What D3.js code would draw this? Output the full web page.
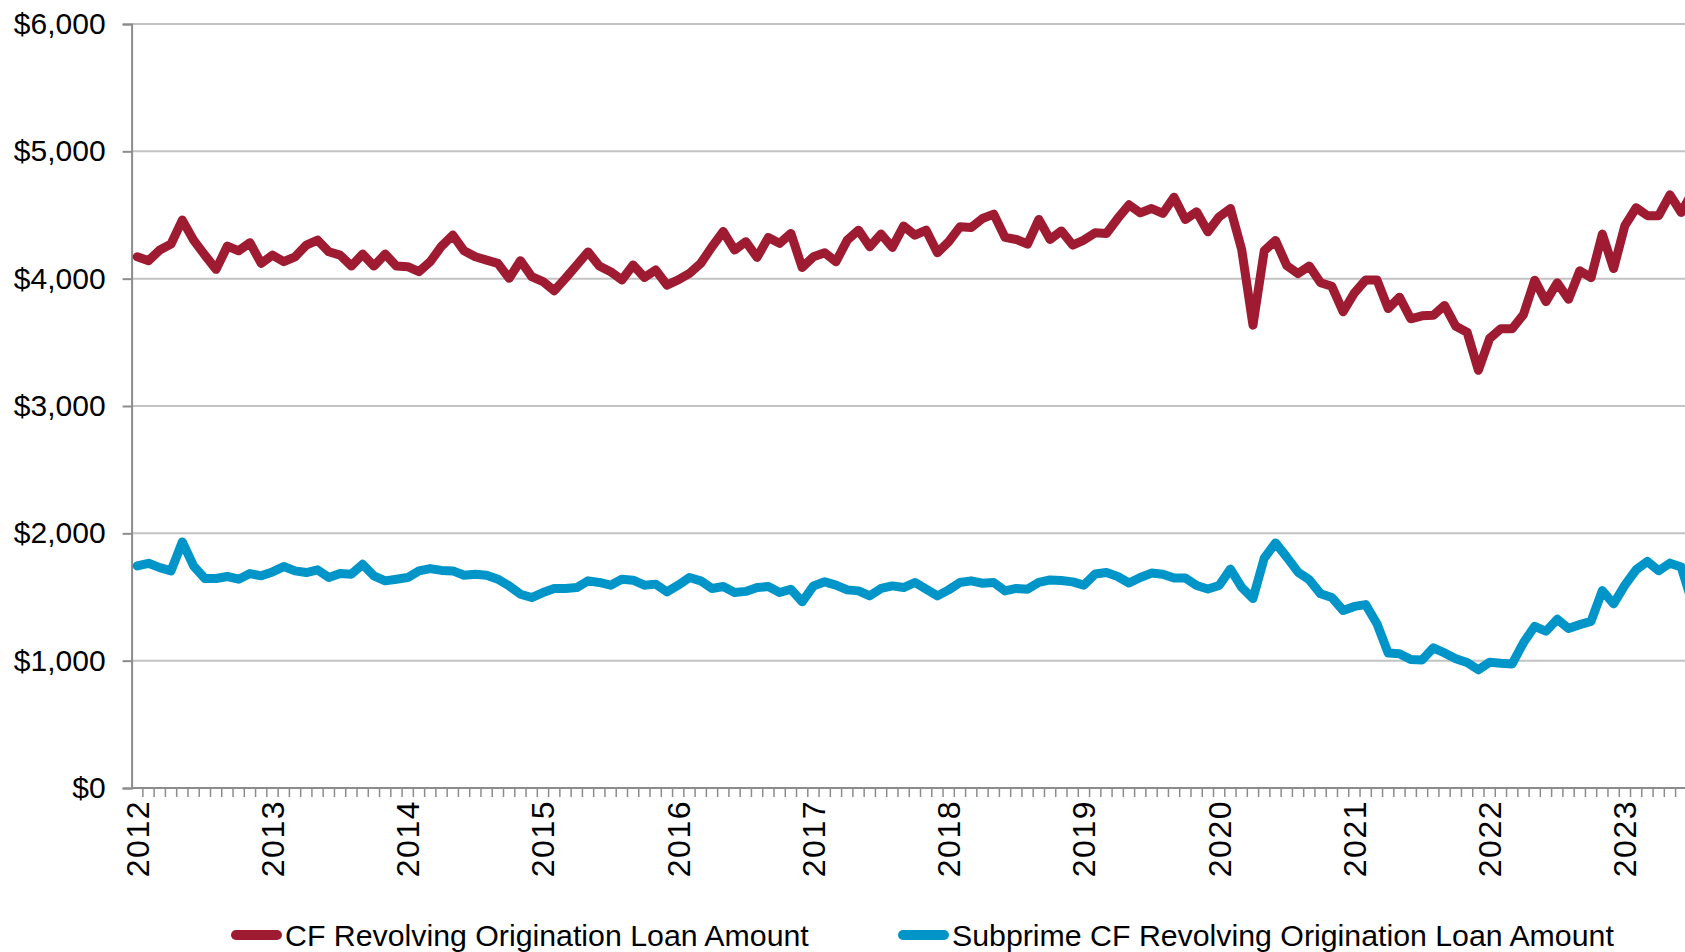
<!DOCTYPE html>
<html>
<head>
<meta charset="utf-8">
<script src="https://cdn.jsdelivr.net/npm/d3@7"></script>
<style>
  body { margin: 0; background: #fff; }
  svg { display: block; font-family: "Liberation Sans", Arial, sans-serif; }
</style>
</head>
<body>
<svg id="chart" width="1685" height="952"></svg>
<script>
// Monthly origination loan amounts, Jan 2012 onward (dollars)
const cfRevolving = [
  4172, 4141, 4225, 4272, 4460, 4303, 4185, 4073, 4256, 4219, 4282, 4120,
  4185, 4133, 4172, 4264, 4303, 4211, 4185, 4099, 4193, 4099, 4193, 4099,
  4094, 4055, 4133, 4255, 4342, 4219, 4172, 4146, 4120, 4003, 4141, 4016,
  3977, 3905, 4003, 4107, 4210, 4099, 4055, 3990, 4107, 4010, 4068, 3950,
  3990, 4042, 4120, 4251, 4370, 4225, 4290, 4167, 4324, 4277, 4355, 4087,
  4172, 4204, 4133, 4303, 4381, 4251, 4350, 4245, 4413, 4342, 4381, 4204,
  4290, 4407, 4402, 4473, 4507, 4324, 4308, 4272, 4465, 4308, 4375, 4264,
  4303, 4360, 4355, 4473, 4580, 4517, 4551, 4512, 4640, 4465, 4525, 4368,
  4486, 4551, 4228, 3635, 4218, 4300, 4103, 4040, 4099, 3968, 3940, 3740,
  3888, 3990, 3990, 3765, 3855, 3685, 3708, 3712, 3790, 3626, 3580, 3280,
  3530, 3607, 3607, 3718, 3988, 3820, 3968, 3838, 4062, 4008, 4350, 4080,
  4416, 4557, 4495, 4495, 4658, 4520, 4680
];
const subprimeRevolving = [
  1744, 1765, 1731, 1705, 1932, 1744, 1645, 1645, 1661, 1640, 1684, 1666,
  1697, 1739, 1705, 1692, 1713, 1653, 1684, 1679, 1757, 1666, 1627, 1640,
  1653, 1705, 1723, 1709, 1705, 1671, 1679, 1671, 1640, 1587, 1522, 1496,
  1535, 1567, 1567, 1574, 1627, 1614, 1593, 1640, 1632, 1593, 1601, 1540,
  1593, 1653, 1627, 1567, 1582, 1535, 1544, 1574, 1582, 1535, 1561, 1462,
  1587, 1619, 1593, 1556, 1548, 1509, 1567, 1587, 1574, 1614, 1561, 1509,
  1556, 1614, 1627, 1608, 1614, 1548, 1567, 1561, 1614, 1634, 1630, 1619,
  1593, 1680, 1692, 1661, 1610, 1653, 1688, 1679, 1649, 1649, 1590, 1563,
  1590, 1719, 1576, 1488, 1805, 1925, 1813, 1695, 1635, 1525, 1496, 1394,
  1426, 1440, 1290, 1060, 1055, 1010, 1005, 1100, 1061, 1015, 985, 928,
  988, 980, 974, 1140, 1270, 1231, 1325, 1253, 1283, 1309, 1550, 1446,
  1593, 1714, 1779, 1707, 1766, 1735, 1450
];
const seriesNames = [
  "CF Revolving Origination Loan Amount",
  "Subprime CF Revolving Origination Loan Amount"
];
const seriesColors = ["#9E1B32", "#0095C8"];
const yTicks = [0, 1000, 2000, 3000, 4000, 5000, 6000];
const yearLabels = ["2012", "2013", "2014", "2015", "2016", "2017",
                    "2018", "2019", "2020", "2021", "2022", "2023"];

const svg = d3.select("#chart");
const W = 1685, H = 952;
const plot = { left: 131.6, top: 24, bottom: 788, step: 11.27 };

// one category per month
const monthKeys = d3.timeMonth.range(new Date(2012, 0, 1), new Date(2012, cfRevolving.length, 1))
  .map(d3.timeFormat("%Y-%m"));

const x = d3.scaleBand()
  .domain(monthKeys)
  .range([plot.left, plot.left + monthKeys.length * plot.step])
  .padding(0);
const y = d3.scaleLinear().domain([0, 6000]).range([plot.bottom, plot.top]);
const cx = k => x(k) + x.bandwidth() / 2;

svg.append("defs").append("clipPath").attr("id", "plotClip")
  .append("rect").attr("x", plot.left).attr("y", 0).attr("width", W - plot.left).attr("height", H);

// horizontal gridlines
svg.append("g")
  .selectAll("line")
  .data(yTicks.filter(v => v > 0))
  .join("line")
  .attr("x1", plot.left).attr("x2", W)
  .attr("y1", d => y(d)).attr("y2", d => y(d))
  .attr("stroke", "#C3C3C3").attr("stroke-width", 2);

// y axis
const yAxis = svg.append("g")
  .attr("transform", `translate(${plot.left},0)`)
  .call(d3.axisLeft(y).tickValues(yTicks).tickSize(9).tickPadding(17)
    .tickFormat(d => "$" + d3.format(",")(d)));
yAxis.select(".domain").attr("stroke", "#8C8C8C").attr("stroke-width", 2);
yAxis.selectAll(".tick line").attr("stroke", "#8C8C8C").attr("stroke-width", 2);
yAxis.selectAll(".tick text")
  .attr("fill", "#000").attr("font-size", 30)
  .attr("font-family", "Liberation Sans, Arial, sans-serif");

// x axis: month tick marks on the category boundaries
const xAxisG = svg.append("g").attr("clip-path", "url(#plotClip)");
xAxisG.append("line")
  .attr("x1", plot.left).attr("x2", W)
  .attr("y1", plot.bottom).attr("y2", plot.bottom)
  .attr("stroke", "#8C8C8C").attr("stroke-width", 2);
xAxisG.selectAll("line.mtick")
  .data(monthKeys)
  .join("line")
  .attr("class", "mtick")
  .attr("x1", d => x(d) + x.bandwidth()).attr("x2", d => x(d) + x.bandwidth())
  .attr("y1", plot.bottom).attr("y2", plot.bottom + 9)
  .attr("stroke", "#8C8C8C").attr("stroke-width", 1.5);

// year labels, rotated, at each January
svg.append("g")
  .selectAll("text")
  .data(yearLabels)
  .join("text")
  .attr("transform", d => `translate(${cx(d + "-01") + 11.5},${plot.bottom + 12}) rotate(-90)`)
  .attr("text-anchor", "end")
  .attr("font-size", 32)
  .attr("letter-spacing", 1.5)
  .attr("fill", "#000")
  .text(d => d);

// series lines
const line = d3.line()
  .x((d, i) => cx(monthKeys[i]))
  .y(d => y(d));
const linesG = svg.append("g").attr("clip-path", "url(#plotClip)");
[cfRevolving, subprimeRevolving].forEach((vals, s) => {
  linesG.append("path")
    .datum(vals)
    .attr("d", line)
    .attr("fill", "none")
    .attr("stroke", seriesColors[s])
    .attr("stroke-width", 9)
    .attr("stroke-linejoin", "round")
    .attr("stroke-linecap", "round");
});

// legend
const legendItems = [
  { swatch: [231, 282], textX: 285 },
  { swatch: [898, 949], textX: 952 }
];
const legend = svg.append("g");
legendItems.forEach((it, s) => {
  legend.append("line")
    .attr("x1", it.swatch[0] + 5).attr("x2", it.swatch[1] - 5)
    .attr("y1", 935).attr("y2", 935)
    .attr("stroke", seriesColors[s]).attr("stroke-width", 10)
    .attr("stroke-linecap", "round");
  legend.append("text")
    .attr("x", it.textX).attr("y", 946)
    .attr("font-size", 30.3).attr("fill", "#000")
    .text(seriesNames[s]);
});
</script>
</body>
</html>
